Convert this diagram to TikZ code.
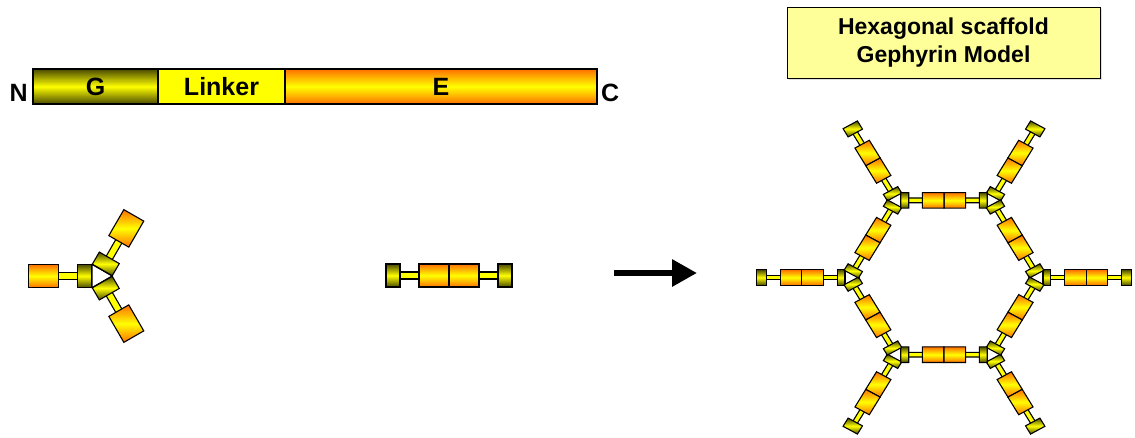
\documentclass[tikz,border=0pt]{standalone}
\usepackage{fontspec}
\setmainfont{Liberation Sans}
\usetikzlibrary{positioning,calc,arrows.meta,shadows}
\definecolor{gdark}{HTML}{4A4A00}
\definecolor{gmid}{HTML}{FFFF00}
\definecolor{eorange}{HTML}{FF7000}
\definecolor{eyellow}{HTML}{FFFF00}
\definecolor{notefill}{HTML}{FFFF99}

% one gephyrin chain along +x: G block from #1 (width #2), linker, E block
\newcommand{\gchain}[2]{%
  \draw[linkrod] (#1+#2-1,-3.5) rectangle (#1+#2+20,3.5);
  \draw[edom] (#1+#2+19,-11.5) rectangle (#1+#2+49,11.5);
  \draw[gdom] (#1,-11.5) rectangle (#1+#2,11.5);
}

\tikzset{
  gdom/.style={draw=black,line width=1.1pt,top color=gdark,bottom color=gdark,middle color=gmid},
  edom/.style={draw=black,line width=1.1pt,top color=eorange,bottom color=eorange,middle color=eyellow},
  linkrod/.style={draw=black,line width=1.1pt,fill=eyellow},
  core/.style={draw=black,line width=1.1pt,fill=white},
  pics/chain/.style={code={\gchain{#1}{14}}},
  % G trimer: white core with three chains, G offset #1 and G width #2
  pics/trimer/.style 2 args={code={
    \draw[core] (60:13.3) -- (180:13.3) -- (300:13.3) -- cycle;
    \foreach \a in {0,120,240} {
      \begin{scope}[rotate=\a]
        \gchain{#1}{#2}
      \end{scope}
    }
  }},
}

\begin{document}
\begin{tikzpicture}[
    x=1pt,y=1pt,
    seg/.style={draw=black,line width=1.1pt,inner sep=0pt,outer sep=0pt,
      minimum height=35,font=\fontsize{25}{30}\selectfont\bfseries},
    termlabel/.style={inner sep=0pt,font=\fontsize{25}{30}\selectfont\bfseries},
    notebox/.style={draw=black,line width=1pt,fill=notefill,align=center,
      minimum width=313,minimum height=71,font=\fontsize{23}{28}\selectfont\bfseries,
      drop shadow={shadow xshift=2pt,shadow yshift=-2pt,fill=black!25}},
    fatarrow/.style={-{Triangle[length=25pt,width=26pt]},line width=6pt}
  ]
    \useasboundingbox (0,-437) rectangle (1135,0);
    % domain bar
    \node[seg,minimum width=125,top color=gdark,bottom color=gdark,middle color=gmid] (gseg) at (95.5,-86.5) {G};
    \node[seg,minimum width=127,fill=eyellow,right=0pt of gseg] (lseg) {Linker};
    \node[seg,minimum width=312,top color=eorange,bottom color=eorange,middle color=eyellow,right=0pt of lseg] (eseg) {E};
    \node[termlabel,anchor=base east] (nterm) at ([shift={(-5,3)}]gseg.south west) {N};
    \node[termlabel,anchor=base west] (cterm) at ([shift={(4,3)}]eseg.south east) {C};
    % title
    \node[notebox] (note) at (943.5,-42.5) {Hexagonal scaffold\\Gephyrin Model};
    % trimer and dimer
    \pic[rotate=180] (gtri) at (98.8,-276) {trimer={7}{14}};
    \pic (edim1) at (386,-275.5) {chain=0};
    \pic[rotate=180] (edim2) at (512,-275.5) {chain=0};
    % arrow
    \coordinate (arrtail) at (614,-273);
    \coordinate (arrtip) at (697,-273);
    \draw[fatarrow] (arrtail) -- (arrtip);
    % hexagonal lattice, a little flattened
    \coordinate (hexc) at (944,-277.5);
    \foreach \k in {0,...,5} {
      \pgfmathsetmacro\ang{60*\k}
      \pic[yscale=0.94,rotate=\ang,scale=0.72] (hex\k)
        at ($(hexc)+({94.8*cos(\ang)},{89.1*sin(\ang)})$) {trimer={5.8}{11}};
      \pic[yscale=0.94,rotate=\ang+180,scale=0.72] (out\k)
        at ($(hexc)+({187.5*cos(\ang)},{176.3*sin(\ang)})$) {chain=0};
    }
\end{tikzpicture}
\end{document}
